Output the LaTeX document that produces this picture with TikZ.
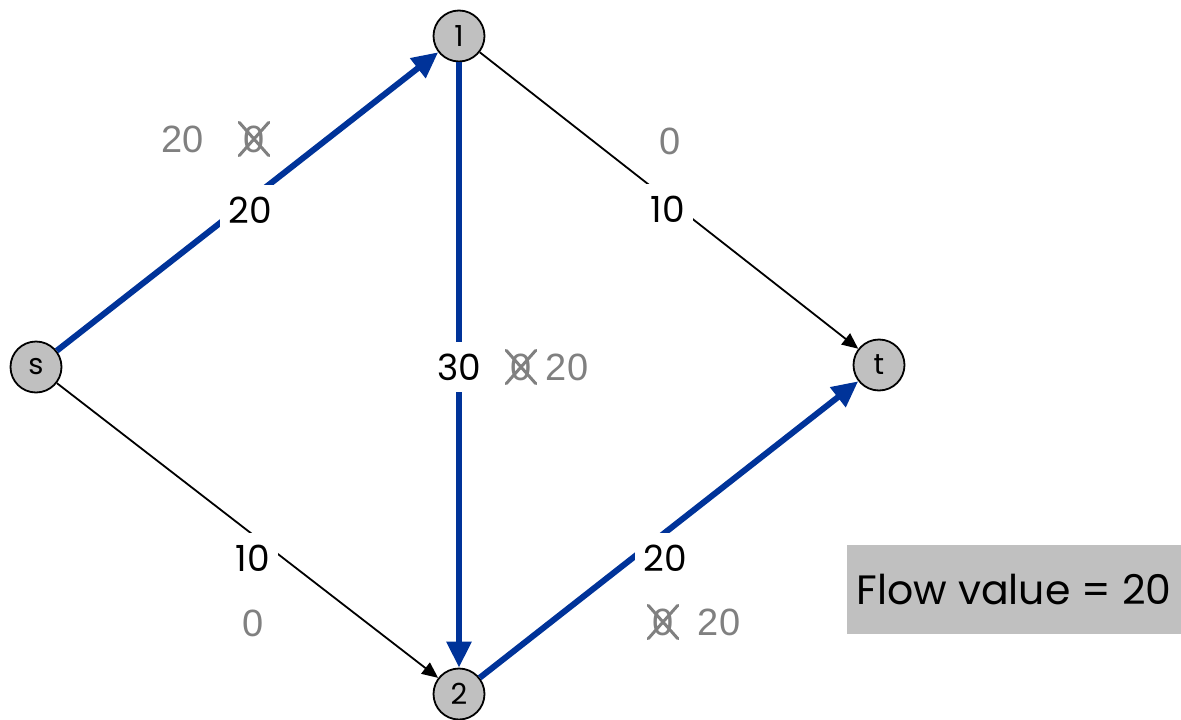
\documentclass[tikz,border=0pt]{standalone}
\usepackage{fontspec}
\setmainfont{Poppins}
\newfontfamily\labfont{Liberation Sans}
\usetikzlibrary{arrows.meta}
\definecolor{flowblue}{RGB}{0,51,153}
\definecolor{nodegray}{RGB}{192,192,192}
\definecolor{labgray}{RGB}{128,128,128}
\tikzset{
  vertex/.style={circle,draw=black,line width=1.8pt,fill=nodegray,minimum size=51pt,inner sep=0pt,font=\fontsize{29}{31}\selectfont},
  flowedge/.style={draw=flowblue,line width=6pt,-{Triangle[length=26pt,width=24pt]}},
  plainedge/.style={draw=black,line width=1.8pt,-{Triangle[length=16pt,width=14pt]}},
  capacity/.style={fill=white,inner xsep=8pt,inner ysep=12pt,font=\fontsize{36}{38}\selectfont},
  old/.style={text=labgray,inner sep=0pt,font=\labfont\fontsize{38}{40}\selectfont},
  strike/.style={draw=labgray,line width=3pt,line cap=round},
  valbox/.style={fill=nodegray,minimum width=334pt,minimum height=89pt,inner sep=0pt,font=\fontsize{41}{43}\selectfont}
}
\begin{document}
\begin{tikzpicture}[x=1pt,y=-1pt]
\useasboundingbox (0,0) rectangle (1181,720);
% vertices
\node[vertex] (s) at (36,367) {s};
\node[vertex] (v1) at (459,36) {1};
\node[vertex] (v2) at (459,694) {2};
\node[vertex] (t) at (879,365) {t};
% edges carrying flow
\draw[flowedge] (s) -- (v1);
\draw[flowedge] (v1) -- (v2);
\draw[flowedge] (v2) -- (t);
% edges without flow
\draw[plainedge] (v1) -- (t);
\draw[plainedge] (s) -- (v2);
% capacities, masking the edges beneath
\node[capacity] (c1) at (250,210) {20};
\node[capacity] (c2) at (459,367) {30};
\node[capacity] (c3) at (665,558) {20};
\node[capacity] (c4) at (668,209) {10};
\node[capacity] (c5) at (253,558) {10};
% flow values: old values struck out
\node[old] (f1) at (183,139) {20};
\node[old] (x1) at (254,139) {0};
\node[old] (x2) at (521,367) {0};
\node[old] (f2) at (567,367) {20};
\node[old] (x3) at (663,622) {0};
\node[old] (f3) at (719,622) {20};
\node[old] (f4) at (670,141) {0};
\node[old] (f5) at (253,623) {0};
\foreach \x in {x1,x2,x3}{
  \draw[strike] ([shift={(-4pt,-3pt)}]\x.south west) -- ([shift={(4pt,3pt)}]\x.north east);
  \draw[strike] ([shift={(-4pt,3pt)}]\x.north west) -- ([shift={(4pt,-3pt)}]\x.south east);
}
% total flow
\node[valbox] (val) at (1014,589.5) {Flow value = 20};
\end{tikzpicture}
\end{document}
